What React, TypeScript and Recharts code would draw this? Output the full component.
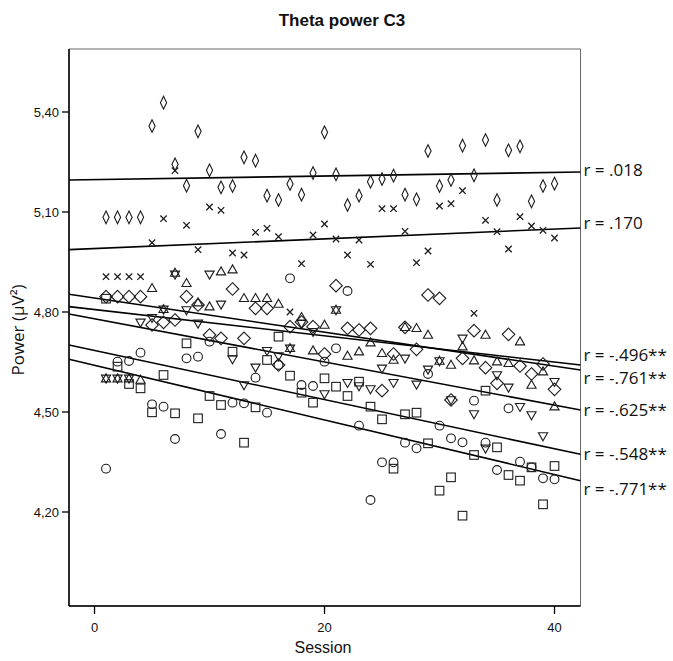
import { ScatterChart, Scatter, XAxis, YAxis, ReferenceLine, ReferenceDot, ReferenceArea } from 'recharts';

// sessions 1..40, one value per session for each subject
const SESSIONS = [
  1, 2, 3, 4, 5, 6, 7, 8, 9, 10, 11, 12, 13, 14, 15, 16, 17, 18, 19, 20,
  21, 22, 23, 24, 25, 26, 27, 28, 29, 30, 31, 32, 33, 34, 35, 36, 37, 38, 39, 40,
];

const SMALL_DIAMOND = [
  5.084, 5.084, 5.084, 5.084, 5.358, 5.428, 5.243, 5.179, 5.342, 5.225,
  5.174, 5.178, 5.264, 5.254, 5.149, 5.136, 5.184, 5.152, 5.217, 5.339,
  5.213, 5.121, 5.149, 5.191, 5.199, 5.209, 5.152, 5.138, 5.283, 5.178,
  5.196, 5.299, 5.21, 5.316, 5.136, 5.285, 5.297, 5.132, 5.178, 5.185,
];
const CROSS = [
  4.906, 4.906, 4.906, 4.906, 5.008, 5.08, 5.224, 5.06, 4.987, 5.115,
  5.105, 4.977, 4.971, 5.039, 5.051, 5.026, 4.8, 4.945, 5.031, 5.064,
  5.019, 4.971, 5.016, 4.943, 5.11, 5.11, 5.042, 4.948, 4.983, 5.118,
  5.125, 5.164, 4.796, 5.075, 5.041, 4.989, 5.086, 5.058, 5.045, 5.022,
];
const TRIANGLE_UP = [
  4.6, 4.6, 4.6, 4.596, 4.871, 4.808, 4.917, 4.886, 4.828, 4.816,
  4.921, 4.927, 4.841, 4.841, 4.841, 4.824, 4.691, 4.784, 4.684, 4.761,
  4.806, 4.668, 4.681, 4.708, 4.676, 4.656, 4.754, 4.751, 4.731, 4.653,
  4.641, 4.696, 4.654, 4.731, 4.651, 4.646, 4.711, 4.581, 4.621, 4.516,
];
const LARGE_DIAMOND = [
  4.846, 4.846, 4.846, 4.846, 4.761, 4.769, 4.776, 4.846, 4.821, 4.731,
  4.721, 4.869, 4.721, 4.811, 4.811, 4.641, 4.756, 4.77, 4.756, 4.674,
  4.879, 4.751, 4.746, 4.751, 4.564, 4.674, 4.754, 4.688, 4.851, 4.841,
  4.536, 4.661, 4.744, 4.633, 4.586, 4.733, 4.638, 4.614, 4.644, 4.568,
];
const TRIANGLE_DOWN = [
  4.601, 4.601, 4.601, 4.769, 4.783, 4.808, 4.913, 4.806, 4.766, 4.913,
  4.823, 4.659, 4.581, 4.634, 4.684, 4.668, 4.691, 4.766, 4.741, 4.554,
  4.806, 4.588, 4.578, 4.569, 4.631, 4.588, 4.661, 4.583, 4.628, 4.653,
  4.536, 4.721, 4.494, 4.391, 4.611, 4.574, 4.516, 4.491, 4.428, 4.591,
];
const CIRCLE = [
  4.33, 4.651, 4.653, 4.678, 4.523, 4.516, 4.419, 4.661, 4.666, 4.711,
  4.434, 4.528, 4.526, 4.603, 4.498, 4.641, 4.901, 4.581, 4.578, 4.651,
  4.691, 4.863, 4.459, 4.236, 4.349, 4.349, 4.408, 4.391, 4.614, 4.459,
  4.421, 4.409, 4.534, 4.408, 4.326, 4.511, 4.351, 4.334, 4.301, 4.298,
];
const SQUARE = [
  4.84, 4.636, 4.584, 4.571, 4.499, 4.611, 4.496, 4.706, 4.481, 4.548,
  4.521, 4.681, 4.408, 4.514, 4.656, 4.726, 4.609, 4.558, 4.528, 4.601,
  4.576, 4.548, 4.591, 4.516, 4.478, 4.33, 4.493, 4.498, 4.406, 4.264,
  4.304, 4.189, 4.371, 4.564, 4.394, 4.311, 4.294, 4.334, 4.223, 4.338,
];

// fitted lines: value at left and right edge of the plot, and the r shown beside them
const FIT_START = [5.196, 4.987, 4.816, 4.853, 4.794, 4.701, 4.658];
const FIT_END = [5.22, 5.052, 4.641, 4.626, 4.506, 4.373, 4.294];
const R_LABELS = ['r = .018', 'r = .170', 'r = -.496**', 'r = -.761**', 'r = -.625**', 'r = -.548**', 'r = -.771**'];

const Y_TICKS = [4.2, 4.5, 4.8, 5.1, 5.4];
const X_TICKS = [0, 20, 40];

const X_MIN = -2.22;
const X_MAX = 42.26;
const Y_MIN = 3.918;
const Y_MAX = 5.589;

// small vertical nudges so the labels don't collide (px)
const LABEL_NUDGE = [-2, -5, -10, 8, 0, 0, 8];

const INK = '#1c1c1c';
const SANS = '"Liberation Sans", Arial, sans-serif';
const MYRIAD = '"Open Sans", "Noto Sans", sans-serif';

function marker(kind: string) {
  return (p: any) => {
    const { cx, cy } = p;
    if (cx == null || cy == null) return <g />;
    const common = { fill: 'none', stroke: INK, strokeWidth: 1.1 };
    switch (kind) {
      case 'smallDiamond':
        return <path d={`M${cx},${cy - 6.3}L${cx + 3.1},${cy}L${cx},${cy + 6.3}L${cx - 3.1},${cy}Z`} {...common} />;
      case 'cross':
        return <path d={`M${cx - 3.2},${cy - 3.2}L${cx + 3.2},${cy + 3.2}M${cx + 3.2},${cy - 3.2}L${cx - 3.2},${cy + 3.2}`} {...common} strokeWidth={1.3} />;
      case 'triUp':
        return <path d={`M${cx},${cy - 4.8}L${cx + 4.6},${cy + 3.2}L${cx - 4.6},${cy + 3.2}Z`} {...common} />;
      case 'triDown':
        return <path d={`M${cx},${cy + 4.8}L${cx + 4.6},${cy - 3.2}L${cx - 4.6},${cy - 3.2}Z`} {...common} />;
      case 'bigDiamond':
        return <path d={`M${cx},${cy - 6.3}L${cx + 6.3},${cy}L${cx},${cy + 6.3}L${cx - 6.3},${cy}Z`} {...common} />;
      case 'circle':
        return <circle cx={cx} cy={cy} r={4.4} {...common} />;
      default:
        return <rect x={cx - 4.3} y={cy - 4.3} width={8.6} height={8.6} {...common} />;
    }
  };
}

const SERIES = [
  { name: 'a', values: SMALL_DIAMOND, kind: 'smallDiamond' },
  { name: 'b', values: CROSS, kind: 'cross' },
  { name: 'c', values: TRIANGLE_UP, kind: 'triUp' },
  { name: 'd', values: LARGE_DIAMOND, kind: 'bigDiamond' },
  { name: 'e', values: TRIANGLE_DOWN, kind: 'triDown' },
  { name: 'f', values: CIRCLE, kind: 'circle' },
  { name: 'g', values: SQUARE, kind: 'square' },
];

function RLabel(props: any) {
  const { viewBox, text, nudge } = props;
  if (!viewBox) return null;
  return (
    <text x={viewBox.x + 3} y={viewBox.y + nudge} dy="0.36em" fontFamily={MYRIAD} fontSize={17} fill="#111">
      {text}
    </text>
  );
}

export default function App() {
  return (
    <div style={{ position: 'absolute', left: 0, top: 0, width: 673, height: 661, background: '#fff' }}>
      <ScatterChart width={673} height={661} margin={{ top: 49, right: 92.5, bottom: 15, left: 0 }}>
        <XAxis
          type="number"
          dataKey="x"
          domain={[X_MIN, X_MAX]}
          allowDataOverflow
          ticks={X_TICKS}
          height={40}
          tickSize={8}
          tickMargin={9}
          axisLine={{ stroke: '#000', strokeWidth: 1.5 }}
          tickLine={{ stroke: '#000', strokeWidth: 1.3 }}
          tick={{ fontSize: 13, fill: '#111', fontFamily: SANS }}
        />
        <YAxis
          type="number"
          dataKey="y"
          domain={[Y_MIN, Y_MAX]}
          allowDataOverflow
          ticks={Y_TICKS}
          width={69}
          tickSize={7}
          tickMargin={3}
          tickFormatter={(v: number) => v.toFixed(2).replace('.', ',')}
          axisLine={{ stroke: '#000', strokeWidth: 1.5 }}
          tickLine={{ stroke: '#000', strokeWidth: 1.3 }}
          tick={{ fontSize: 13, fill: '#111', fontFamily: SANS }}
        />
        <ReferenceArea x1={X_MIN} x2={X_MAX} y1={Y_MIN} y2={Y_MAX} fill="none" stroke="#666" strokeWidth={1} />
        {SERIES.map((s) => (
          <Scatter
            key={s.name}
            name={s.name}
            data={SESSIONS.map((x, i) => ({ x, y: s.values[i] }))}
            shape={marker(s.kind)}
            isAnimationActive={false}
          />
        ))}
        {FIT_START.map((y0, i) => (
          <ReferenceLine
            key={'fit' + i}
            segment={[{ x: X_MIN, y: y0 }, { x: X_MAX, y: FIT_END[i] }]}
            stroke="#000"
            strokeWidth={1.6}
          />
        ))}
        {FIT_END.map((y1, i) => (
          <ReferenceDot
            key={'lab' + i}
            x={X_MAX}
            y={y1}
            r={0}
            stroke="none"
            fill="none"
            label={<RLabel text={R_LABELS[i]} nudge={LABEL_NUDGE[i]} />}
          />
        ))}
      </ScatterChart>
      <div style={{ position: 'absolute', left: 142, top: 11, width: 400, textAlign: 'center', lineHeight: '20px', fontFamily: SANS, fontWeight: 'bold', fontSize: 17, color: '#111' }}>
        Theta power C3
      </div>
      <div style={{ position: 'absolute', left: -82, top: 320, width: 200, height: 20, lineHeight: '20px', textAlign: 'center', transform: 'rotate(-90deg)', fontFamily: MYRIAD, fontSize: 17, color: '#111' }}>
        Power (µV²)
      </div>
      <div style={{ position: 'absolute', left: 223, top: 638, width: 200, lineHeight: '20px', textAlign: 'center', fontFamily: SANS, fontSize: 16, color: '#111' }}>
        Session
      </div>
    </div>
  );
}
